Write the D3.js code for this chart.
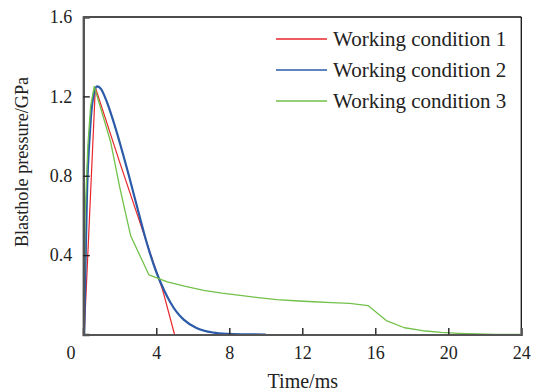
<!DOCTYPE html>
<html>
<head>
<meta charset="utf-8">
<script src="https://cdn.jsdelivr.net/npm/d3@7"></script>
<style>
  html, body { margin: 0; padding: 0; background: #fff; }
  svg { display: block; }
  text { font-family: "Liberation Serif", "Times New Roman", serif; fill: #222; }
</style>
</head>
<body>
<svg id="chart" width="536" height="392"></svg>
<script>
// Blasthole pressure histories (time in ms, pressure in GPa)
const seriesNames = ["Working condition 1", "Working condition 2", "Working condition 3"];
const seriesColors = ["#e8262a", "#2b5ba8", "#72c14a"];
const seriesWidths = [1.2, 2.2, 1.3];

const cond1Time = [0.05, 0.66, 2.0, 4.35, 5.0];
const cond1Pres = [0, 1.245, 0.866, 0.224, 0];

const cond2Time = [0.05, 0.12, 0.2, 0.35, 0.45, 0.58, 0.75, 0.95, 1.17, 1.4, 1.63, 2.05, 2.5, 3.0, 3.5, 4.0, 4.44, 4.75, 5.1, 5.5, 6.2, 7.1, 8.0, 9.0, 10.0];
const cond2Pres = [0, 0.35, 0.7, 1.0, 1.13, 1.21, 1.25, 1.24, 1.2, 1.145, 1.08, 0.95, 0.8, 0.625, 0.455, 0.315, 0.22, 0.165, 0.115, 0.075, 0.033, 0.01, 0.003, 0.0005, 0];

const cond3Time = [0.02, 0.1, 0.25, 0.4, 0.6, 1.5, 2.0, 2.6, 3.6, 4.6, 5.6, 6.6, 7.6, 8.6, 9.6, 10.6, 11.6, 12.6, 13.6, 14.6, 15.6, 16.6, 17.6, 18.6, 19.6, 20.6, 21.6, 22.6, 24.0];
const cond3Pres = [0, 0.6, 0.95, 1.15, 1.25, 0.97, 0.74, 0.496, 0.30, 0.265, 0.242, 0.222, 0.208, 0.197, 0.186, 0.176, 0.170, 0.165, 0.161, 0.157, 0.146, 0.07, 0.034, 0.019, 0.011, 0.006, 0.003, 0.001, 0];

const xTicks = [4, 8, 12, 16, 20, 24];
const yTicks = [0.4, 0.8, 1.2, 1.6];

const svg = d3.select("#chart");
const plotLeft = 83.3, plotRight = 521.3, plotTop = 17, plotBottom = 334.5;
const serif = "'Liberation Serif', 'Times New Roman', serif";

const x = d3.scaleLinear().domain([0, 24]).range([plotLeft, plotRight]);
const y = d3.scaleLinear().domain([0, 1.6]).range([plotBottom, plotTop]);

const series = [
  cond1Time.map((t, i) => [t, cond1Pres[i]]),
  cond2Time.map((t, i) => [t, cond2Pres[i]]),
  cond3Time.map((t, i) => [t, cond3Pres[i]])
];

// frame: top and right borders
svg.append("line").attr("x1", plotLeft).attr("x2", plotRight).attr("y1", plotTop).attr("y2", plotTop)
  .attr("stroke", "#111").attr("stroke-width", 1.3);
svg.append("line").attr("x1", plotRight).attr("x2", plotRight).attr("y1", plotTop).attr("y2", plotBottom)
  .attr("stroke", "#111").attr("stroke-width", 1.3);

// curves (smooth for condition 2, polyline for the others)
const lineLinear = d3.line().x(d => x(d[0])).y(d => y(d[1]));
const lineSmooth = d3.line().x(d => x(d[0])).y(d => y(d[1])).curve(d3.curveMonotoneX);

series.forEach((s, i) => {
  svg.append("path")
    .datum(s)
    .attr("fill", "none")
    .attr("stroke", seriesColors[i])
    .attr("stroke-width", seriesWidths[i])
    .attr("stroke-linejoin", "round")
    .attr("d", i === 1 ? lineSmooth(s) : lineLinear(s));
});

// bottom axis with inward ticks
const xAxis = svg.append("g").attr("transform", `translate(0,${plotBottom})`)
  .call(d3.axisBottom(x).tickValues(xTicks).tickSize(-6.5).tickPadding(12).tickFormat(d3.format("d")));
xAxis.attr("font-family", null).attr("font-size", null);
xAxis.select(".domain").attr("stroke", "#555").attr("stroke-width", 2.2);
xAxis.selectAll(".tick line").attr("stroke", "#222").attr("stroke-width", 1.4)
  .filter(d => d === 24).remove();
xAxis.selectAll(".tick text").style("font-size", "18px").style("font-family", serif)
  .attr("fill", "#222").attr("dy", "0.71em");

// left axis with inward ticks
const yAxis = svg.append("g").attr("transform", `translate(${plotLeft},0)`)
  .call(d3.axisLeft(y).tickValues(yTicks).tickSize(-6.5).tickPadding(11).tickFormat(d3.format(".1f")));
yAxis.attr("font-family", null).attr("font-size", null);
yAxis.select(".domain").attr("stroke", "#555").attr("stroke-width", 2.4);
yAxis.selectAll(".tick line").attr("stroke", "#222").attr("stroke-width", 1.4)
  .filter(d => d === 1.6).remove();
yAxis.selectAll(".tick text").style("font-size", "18px").style("font-family", serif).attr("fill", "#222");

// shared origin label
svg.append("text").attr("x", 71).attr("y", 359).attr("text-anchor", "middle")
  .style("font-size", "18px").style("font-family", serif).text("0");

// axis titles
svg.append("text").attr("x", (plotLeft + plotRight) / 2 + 0.5).attr("y", 388).attr("text-anchor", "middle")
  .style("font-size", "20px").style("font-family", serif).text("Time/ms");
svg.append("text").attr("transform", "translate(28,162) rotate(-90)").attr("text-anchor", "middle")
  .style("font-size", "18.2px").style("font-family", serif).text("Blasthole pressure/GPa");

// legend
const legend = svg.append("g");
seriesNames.forEach((name, i) => {
  const ly = 39 + i * 31;
  legend.append("line").attr("x1", 276).attr("x2", 327).attr("y1", ly).attr("y2", ly)
    .attr("stroke", seriesColors[i]).attr("stroke-width", 1.4);
  legend.append("text").attr("x", 333).attr("y", ly + 6.5)
    .style("font-size", "21px").style("font-family", serif).text(name);
});
</script>
</body>
</html>
